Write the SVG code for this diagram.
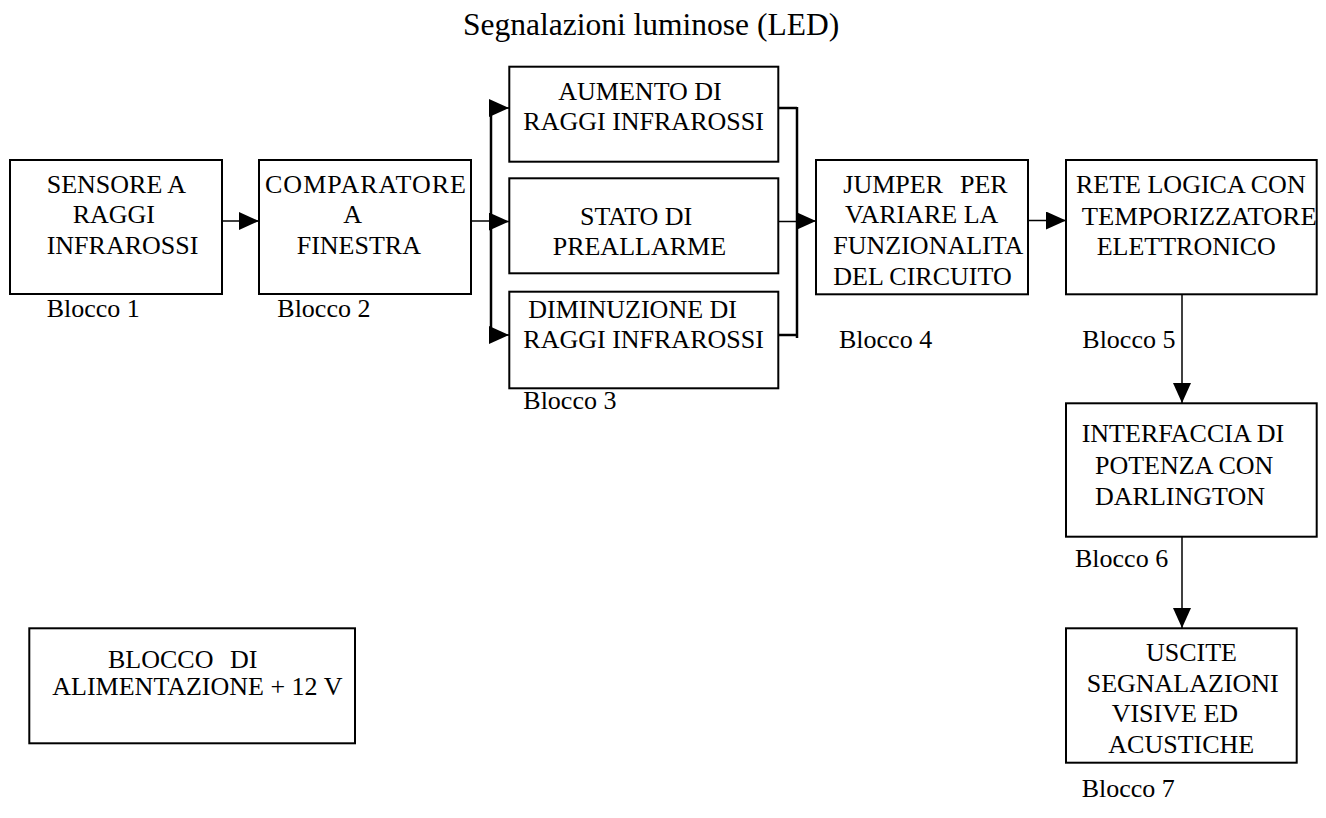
<svg xmlns="http://www.w3.org/2000/svg" width="1326" height="818" viewBox="0 0 1326 818">
<style>
text{font-family:"Liberation Serif","Times New Roman",serif;font-size:26px;fill:#000}
.box{fill:#fff;stroke:#000;stroke-width:2}
.ln{fill:none;stroke:#000;stroke-width:1.5}
.bus{fill:none;stroke:#000;stroke-width:2.5}
</style>
<defs>
<marker id="ah" viewBox="0 0 20 18" refX="20" refY="9" markerWidth="20" markerHeight="18" markerUnits="userSpaceOnUse" orient="auto">
<path d="M0,0 L20,9 L0,18 Z" fill="#000"/>
</marker>
</defs>
<rect width="1326" height="818" fill="#fff"/>
<text id="title" x="463" y="35" style="font-size:31.5px">Segnalazioni luminose (LED)</text>

<g id="connectors">
<line class="ln" x1="222" y1="221" x2="259" y2="221" marker-end="url(#ah)"/>
<line class="ln" x1="471" y1="221" x2="491" y2="221"/>
<line class="bus" x1="491" y1="107" x2="491" y2="337"/>
<line class="ln" x1="491" y1="108" x2="509" y2="108" marker-end="url(#ah)"/>
<line class="ln" x1="491" y1="221.5" x2="509" y2="221.5" marker-end="url(#ah)"/>
<line class="ln" x1="491" y1="335" x2="509" y2="335" marker-end="url(#ah)"/>
<line class="bus" x1="778" y1="108" x2="797" y2="108"/>
<line class="ln" x1="778" y1="221.5" x2="797" y2="221.5"/>
<line class="bus" x1="778" y1="335" x2="797" y2="335"/>
<line class="bus" x1="797" y1="107" x2="797" y2="338"/>
<line class="ln" x1="797" y1="221" x2="816" y2="221" marker-end="url(#ah)"/>
<line class="ln" x1="1028" y1="220.5" x2="1066" y2="220.5" marker-end="url(#ah)"/>
<line class="ln" x1="1182" y1="290" x2="1182" y2="403" marker-end="url(#ah)"/>
<line class="ln" x1="1182" y1="532" x2="1182" y2="628" marker-end="url(#ah)"/>
</g>

<g id="blocco1">
<rect class="box" x="10" y="160" width="212" height="134"/>
<text x="46.7" y="193.3">SENSORE A</text>
<text x="72.7" y="223.3">RAGGI</text>
<text x="46.7" y="254">INFRAROSSI</text>
<text x="46.7" y="316.7">Blocco 1</text>
</g>

<g id="blocco2">
<rect class="box" x="259" y="160" width="212" height="134"/>
<text x="265" y="193.3" textLength="201" lengthAdjust="spacing">COMPARATORE</text>
<text x="343.3" y="223.3">A</text>
<text x="296.7" y="254">FINESTRA</text>
<text x="277.3" y="316.7">Blocco 2</text>
</g>

<g id="aumento">
<rect class="box" x="509.3" y="66.7" width="269" height="95"/>
<text x="558.3" y="100">AUMENTO DI</text>
<text x="523.3" y="130">RAGGI INFRAROSSI</text>
</g>

<g id="preallarme">
<rect class="box" x="509.3" y="178.3" width="269" height="95"/>
<text x="580" y="225">STATO DI</text>
<text x="552.7" y="255">PREALLARME</text>
</g>

<g id="diminuzione">
<rect class="box" x="509.3" y="291.7" width="269" height="96.6"/>
<text x="528.3" y="318.3">DIMINUZIONE DI</text>
<text x="523.3" y="348.3">RAGGI INFRAROSSI</text>
<text x="523.3" y="408.5">Blocco 3</text>
</g>

<g id="blocco4">
<rect class="box" x="816" y="160" width="212" height="134.3"/>
<text x="843.3" y="192.7">JUMPER<tspan x="960">PER</tspan></text>
<text x="845" y="223.3">VARIARE LA</text>
<text x="833.3" y="254">FUNZIONALITA</text>
<text x="833.3" y="285">DEL CIRCUITO</text>
<text x="839" y="348">Blocco 4</text>
</g>

<g id="blocco5">
<rect class="box" x="1066" y="160" width="250.7" height="134.3"/>
<text x="1076" y="193.3">RETE LOGICA CON</text>
<text x="1081.7" y="225" textLength="235" lengthAdjust="spacingAndGlyphs">TEMPORIZZATORE</text>
<text x="1096.7" y="255">ELETTRONICO</text>
<text x="1082.3" y="348.3">Blocco 5</text>
</g>

<g id="blocco6">
<rect class="box" x="1066" y="403.3" width="250.7" height="133.4"/>
<text x="1081.7" y="442">INTERFACCIA DI</text>
<text x="1095" y="474">POTENZA CON</text>
<text x="1095" y="505">DARLINGTON</text>
<text x="1075" y="566.7">Blocco 6</text>
</g>

<g id="blocco7">
<rect class="box" x="1066" y="628.3" width="230.7" height="134.4"/>
<text x="1146" y="660.7">USCITE</text>
<text x="1086.7" y="691.7">SEGNALAZIONI</text>
<text x="1111.7" y="721.7">VISIVE ED</text>
<text x="1108.3" y="752.7">ACUSTICHE</text>
<text x="1081.7" y="797">Blocco 7</text>
</g>

<g id="alimentazione">
<rect class="box" x="29.3" y="628.3" width="325.7" height="115"/>
<text x="108" y="668.3">BLOCCO<tspan x="230">DI</tspan></text>
<text x="52.3" y="695">ALIMENTAZIONE + 12 V</text>
</g>
</svg>
